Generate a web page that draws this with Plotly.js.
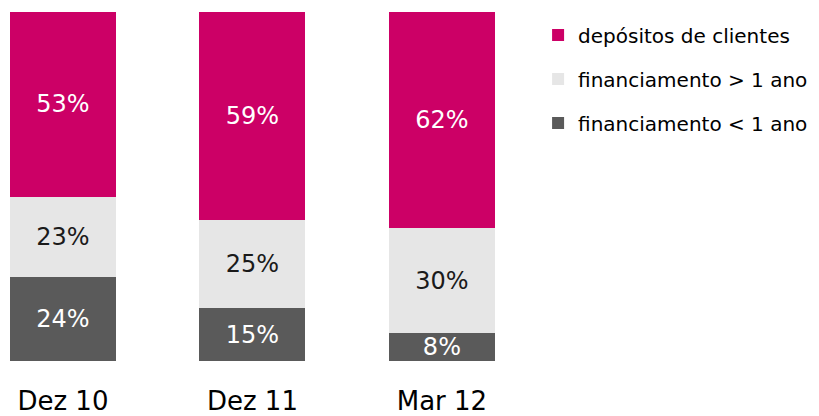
<!DOCTYPE html>
<html><head><meta charset="utf-8">
<script src="https://cdn.plot.ly/plotly-3.0.1.min.js"></script>
<style>body{margin:0;padding:0;background:#fff}#c{width:819px;height:416px}</style>
</head><body><div id="c"></div>
<script>
const categories = ["Dez 10", "Dez 11", "Mar 12"];
const seriesNames = ["financiamento < 1 ano", "financiamento > 1 ano", "depósitos de clientes"];
const shortTerm = [24, 15, 8];
const longTerm = [23, 25, 30];
const deposits = [53, 59, 62];
const colors = ["#5A5A5A", "#E6E6E6", "#CC0066"];
const textColors = ["#FFFFFF", "#1A1A1A", "#FFFFFF"];
const legendRanks = [3, 2, 1];
const FONT = "DejaVu Sans, sans-serif";

const values = [shortTerm, longTerm, deposits];
const traces = values.map((vals, i) => ({
  type: "bar",
  x: categories,
  y: vals,
  name: seriesNames[i],
  legendgroup: "g" + i,
  legendrank: legendRanks[i],
  marker: {color: colors[i], line: {width: 0}},
  width: 0.56,
  text: vals.map(v => v + "%"),
  textposition: "inside",
  insidetextanchor: "middle",
  textangle: 0,
  constraintext: "none",
  cliponaxis: false,
  textfont: {family: FONT, size: 24, color: textColors[i]},
  hoverinfo: "skip"
}));

const layout = {
  width: 819, height: 416,
  margin: {l: 0, r: 0, t: 12, b: 55},
  paper_bgcolor: "#fff", plot_bgcolor: "#fff",
  barmode: "stack",
  barnorm: "percent",
  font: {family: FONT, color: "#000"},
  xaxis: {
    type: "category",
    range: [-0.332, 3.99],
    showgrid: false, zeroline: false, showline: false,
    ticks: "", tickfont: {family: FONT, size: 26, color: "#000"},
    ticklabelstandoff: 22
  },
  yaxis: {range: [0, 100], visible: false, fixedrange: true},
  showlegend: true,
  legend: {
    x: 0.657, y: 0.99, xanchor: "left", yanchor: "top",
    traceorder: "grouped",
    tracegroupgap: 15,
    font: {family: FONT, size: 20, color: "#000"},
    bgcolor: "rgba(0,0,0,0)"
  }
};
Plotly.newPlot("c", traces, layout, {displayModeBar: false, staticPlot: true});
</script></body></html>
